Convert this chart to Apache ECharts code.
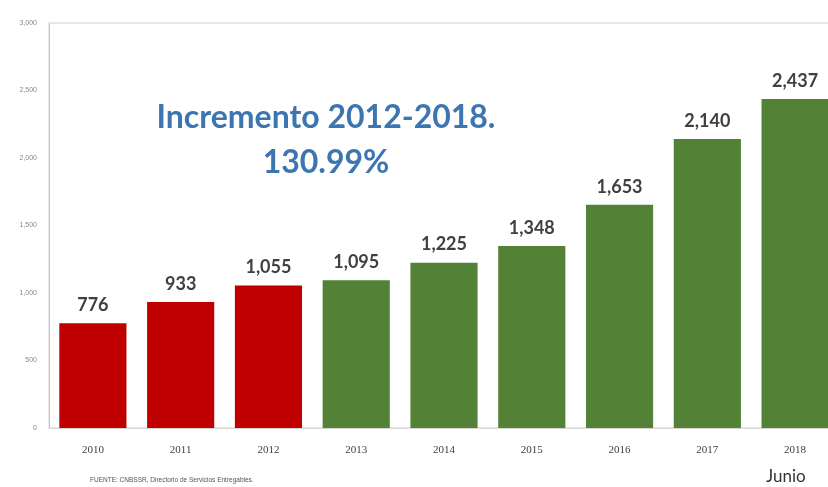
<!DOCTYPE html>
<html><head><meta charset="utf-8">
<script src="https://cdn.jsdelivr.net/npm/echarts@6/dist/echarts.min.js"></script>
<style>html,body{margin:0;padding:0;background:#fff;overflow:hidden;width:828px;height:487px}#c{width:850px;height:487px}</style>
</head><body><div id="c"></div>
<script>
const years = ['2010','2011','2012','2013','2014','2015','2016','2017','2018'];
const values = [776, 933, 1055, 1095, 1225, 1348, 1653, 2140, 2437];
const redYears = ['2010','2011','2012'];
const yTicks = [0, 500, 1000, 1500, 2000, 2500, 3000];
const titleLines = ['Incremento 2012-2018.', '130.99%'];
const footer = 'FUENTE: CNBSSR, Directorio de Servicios Entregables.';
const note = 'Junio';

const chart = echarts.init(document.getElementById('c'));
const fmt = v => v.toLocaleString('en-US');
chart.setOption({
  animation: false,
  backgroundColor: '#fff',
  grid: { left: 49, top: 23, right: 11, bottom: 59, show: true, borderColor: '#d0d0d0', borderWidth: 1 },
  title: {
    text: titleLines.join('\n'), left: 321, top: 90, textAlign: 'center',
    textStyle: { color: '#3d75b0', fontFamily: 'Lato', fontWeight: 'bold', fontSize: 32, lineHeight: 45 }
  },
  graphic: [
    { type: 'text', left: 90, top: 477, style: { text: footer, fontSize: 6.5, fill: '#555', fontFamily: 'Liberation Sans' } },
    { type: 'text', left: 766, top: 468, style: { text: note, fontSize: 17, fill: '#333', fontFamily: 'Lato' } }
  ],
  xAxis: {
    type: 'category', data: years,
    axisLine: { lineStyle: { color: '#d9d9d9' } }, axisTick: { show: false },
    axisLabel: { color: '#404040', fontSize: 11, margin: 17, fontFamily: 'Liberation Serif' }
  },
  yAxis: {
    type: 'value', min: 0, max: 3000, interval: 500,
    axisLine: { show: true, lineStyle: { color: '#c8c8c8' } }, axisTick: { show: false },
    splitLine: { show: false },
    axisLabel: { color: '#888', fontSize: 7, margin: 12, formatter: v => yTicks.includes(v) ? fmt(v) : '' }
  },
  series: [{
    type: 'bar', barWidth: '76.5%',
    data: values.map((v, i) => ({ value: v, itemStyle: { color: redYears.includes(years[i]) ? '#c00000' : '#538135' } })),
    label: { show: true, position: 'top', distance: 9, formatter: p => fmt(p.value),
      color: '#404040', fontSize: 18, fontWeight: 'bold', fontFamily: 'Lato' }
  }]
});
</script></body></html>
